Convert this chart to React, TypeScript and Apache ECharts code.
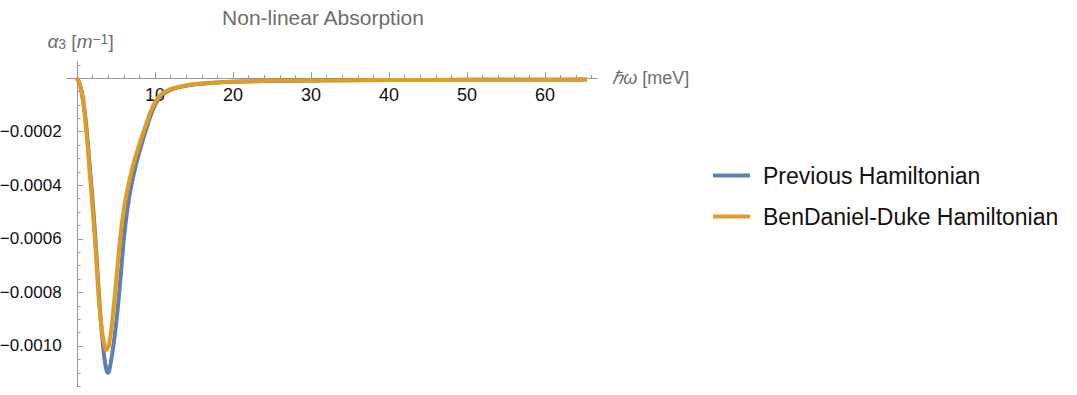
import React, { useEffect, useRef } from "react";
import * as echarts from "echarts";

const energy = [0, 0.4, 0.8, 1.2, 1.6, 2.0, 2.4, 2.7, 3.0, 3.3, 3.5, 3.7, 3.9, 4.1, 4.5, 5.0, 5.5, 6.0, 6.5, 7.0, 7.5, 8.0, 8.5, 9.0, 9.5, 10, 10.5, 11, 12, 13, 14, 15, 16, 18, 20, 25, 30, 40, 50, 60, 65.4];
const previousH = [0, -0.000027, -0.000085, -0.000185, -0.00032, -0.00046, -0.00062, -0.00076, -0.00089, -0.00099, -0.001045, -0.00108, -0.0011, -0.001095, -0.00103, -0.00092, -0.00077, -0.0006, -0.00048, -0.000395, -0.00033, -0.000275, -0.000225, -0.000178, -0.000134, -0.0001, -0.000076, -0.00006, -0.000044, -0.0000345, -0.000028, -0.0000235, -0.0000205, -0.0000163, -0.0000138, -0.0000102, -0.0000087, -0.0000071, -0.0000063, -0.0000057, -0.0000054];
const benDanielDukeH = [0, -0.00003, -0.000094, -0.000203, -0.000345, -0.00049, -0.00065, -0.00079, -0.000895, -0.000965, -0.000995, -0.001015, -0.00101, -0.000995, -0.00091, -0.00076, -0.000605, -0.00049, -0.00041, -0.000345, -0.000292, -0.000245, -0.000202, -0.00016, -0.00012, -0.00009, -0.000069, -0.000055, -0.000041, -0.000033, -0.000027, -0.000023, -0.00002, -0.000016, -0.0000135, -0.00001, -0.0000085, -0.000007, -0.0000062, -0.0000056, -0.0000053];

const xMajorTicks = [10, 20, 30, 40, 50, 60];
const xMinorTicks = [2, 4, 6, 8, 12, 14, 16, 18, 22, 24, 26, 28, 32, 34, 36, 38, 42, 44, 46, 48, 52, 54, 56, 58, 62, 64, 66];
const yMajorTicks = [-0.001, -0.0008, -0.0006, -0.0004, -0.0002];
const yMinorTicks = [0.00005, -0.00005, -0.0001, -0.00015, -0.00025, -0.0003, -0.00035, -0.00045, -0.0005, -0.00055, -0.00065, -0.0007, -0.00075, -0.00085, -0.0009, -0.00095, -0.00105, -0.0011, -0.00115];

const seriesNames = ["Previous Hamiltonian", "BenDaniel-Duke Hamiltonian"];
const colors = ["#5E81B5", "#E19C24"];

const X_MIN = -1.33;
const X_MAX = 66.7;
const Y_MIN = -0.001152;
const Y_MAX = 0.0000615;
const GRID_TOP = 61.7;
const GRID_H = 325;
const ZERO_OFFSET = -(Y_MAX / (Y_MAX - Y_MIN)) * GRID_H;
const AXIS_COLOR = "#9a9a9a";
const FONT = "Liberation Sans";

export default function App() {
  const ref = useRef<HTMLDivElement>(null);
  useEffect(() => {
    document.body.style.margin = "0";
    const chart = echarts.init(ref.current!, null, { renderer: "svg" });
    const fmtY = (v: number) => "\u2212" + Math.abs(v).toFixed(4);
    const xBase = {
      type: "value",
      min: X_MIN,
      max: X_MAX,
      position: "top",
      offset: ZERO_OFFSET,
      splitLine: { show: false },
    };
    chart.setOption({
      animation: false,
      title: {
        text: "Non-linear Absorption",
        left: 318,
        top: 2,
        textAlign: "center",
        textStyle: { fontFamily: FONT, fontSize: 21, fontWeight: "normal", color: "#6e6e6e" },
      },
      grid: { left: 66.7, top: GRID_TOP, width: 530.5, height: GRID_H, outerBoundsMode: "none" },
      legend: {
        orient: "vertical",
        left: 708,
        top: 159,
        itemWidth: 37,
        itemHeight: 4,
        itemGap: 18,
        icon: "rect",
        textStyle: { fontFamily: FONT, fontSize: 23, color: "#111", padding: [0, 0, 0, 8] },
        data: seriesNames,
      },
      xAxis: [
        {
          ...xBase,
          axisLine: { show: true, onZero: false, lineStyle: { color: AXIS_COLOR, width: 1 } },
          axisTick: { show: true, inside: false, length: 6, customValues: xMajorTicks, lineStyle: { color: AXIS_COLOR } },
          axisLabel: { inside: true, customValues: xMajorTicks, margin: 8, fontFamily: FONT, fontSize: 18, color: "#111" },
          name: "{it|\u210F\u03C9} [meV]",
          nameLocation: "end",
          nameGap: 15,
          nameTextStyle: {
            fontFamily: FONT,
            fontSize: 18,
            color: "#6e6e6e",
            verticalAlign: "middle",
            rich: { it: { fontStyle: "italic", fontSize: 18, color: "#6e6e6e", fontFamily: FONT } },
          },
        },
        {
          ...xBase,
          axisLine: { show: false, onZero: false },
          axisTick: { show: true, inside: false, length: 3, customValues: xMinorTicks, lineStyle: { color: AXIS_COLOR } },
          axisLabel: { show: false },
        },
      ],
      yAxis: [
        {
          type: "value",
          min: Y_MIN,
          max: Y_MAX,
          position: "left",
          axisLine: { show: true, onZero: true, lineStyle: { color: AXIS_COLOR, width: 1 } },
          axisTick: { show: true, inside: true, length: 6, customValues: yMajorTicks, lineStyle: { color: AXIS_COLOR } },
          axisLabel: { customValues: yMajorTicks, formatter: fmtY, margin: 5, fontFamily: FONT, fontSize: 17, color: "#111" },
          splitLine: { show: false },
          name: "{it|\u03B1}{sub|3} [{it|m}{sup|\u22121}]",
          nameLocation: "end",
          nameGap: 11,
          nameTextStyle: {
            fontFamily: FONT,
            fontSize: 19,
            color: "#6e6e6e",
            padding: [0, 0, 0, 7],
            rich: {
              it: { fontStyle: "italic", fontSize: 19, color: "#6e6e6e", fontFamily: FONT },
              sub: { fontSize: 14, color: "#6e6e6e", verticalAlign: "bottom", fontFamily: FONT },
              sup: { fontSize: 14, color: "#6e6e6e", verticalAlign: "top", fontFamily: FONT },
            },
          },
        },
        {
          type: "value",
          min: Y_MIN,
          max: Y_MAX,
          position: "left",
          axisLine: { show: false, onZero: true },
          axisTick: { show: true, inside: true, length: 3.5, customValues: yMinorTicks, lineStyle: { color: AXIS_COLOR } },
          axisLabel: { show: false },
          splitLine: { show: false },
        },
      ],
      series: [
        {
          name: seriesNames[0],
          type: "line",
          xAxisIndex: 0,
          yAxisIndex: 0,
          data: energy.map((x, i) => [x, previousH[i]]),
          showSymbol: false,
          smooth: 0.3,
          color: colors[0],
          lineStyle: { width: 4, color: colors[0] },
        },
        {
          name: seriesNames[1],
          type: "line",
          xAxisIndex: 0,
          yAxisIndex: 0,
          data: energy.map((x, i) => [x, benDanielDukeH[i]]),
          showSymbol: false,
          smooth: 0.3,
          color: colors[1],
          lineStyle: { width: 4, color: colors[1] },
        },
      ],
    });
    return () => chart.dispose();
  }, []);
  return <div ref={ref} style={{ width: 1077, height: 395 }} />;
}
